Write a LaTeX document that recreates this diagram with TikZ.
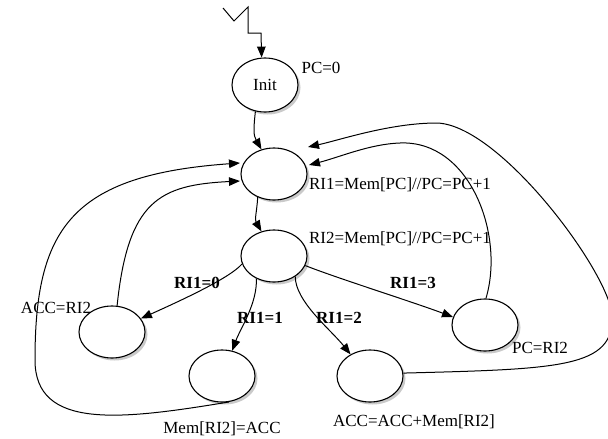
\documentclass[tikz,border=0pt]{standalone}
\usepackage{fontspec}
\setmainfont{Liberation Serif}
\usetikzlibrary{arrows.meta,shapes.geometric,shadows}
\begin{document}
\begin{tikzpicture}[x=1pt,y=-1pt,
  state/.style={ellipse,draw,line width=1.1pt,fill=white,minimum width=66pt,minimum height=52pt,inner sep=0pt,
    font=\fontsize{17}{20}\selectfont,
    drop shadow={shadow xshift=2.5pt,shadow yshift=-2.5pt,opacity=0.35,fill=black!60}},
  conn/.style={line width=1pt,-{Triangle[length=11pt,width=8.5pt]}},
  lbl/.style={inner sep=0pt,font=\fontsize{17}{20}\selectfont},
  cond/.style={inner sep=0pt,font=\fontsize{17}{20}\selectfont\bfseries}]
\useasboundingbox (0,0) rectangle (608,439);
\clip (0,0) rectangle (608,439);

\node[state,minimum height=54pt] (init) at (265,85) {Init};
\node[state] (A) at (274,174) {};
\node[state] (B) at (274,256) {};
\node[state] (C) at (112,332) {};
\node[state] (D) at (222,376) {};
\node[state] (E) at (370,376) {};
\node[state] (F) at (485,325) {};

\coordinate (zz) at (223,8);
\coordinate (tE) at (308,147);
\coordinate (tF) at (309,165);
\coordinate (tD) at (240,163);
\coordinate (tC) at (240,181);

\draw[conn] (zz) -- (234,21) -- (248,7) -- (248,33) -- (261,33) -- (init.97);
\draw[conn] (init.250) .. controls +(-2,18) and +(-8,-14) .. (A.117);
\draw[conn] (A.235) .. controls +(-1,15) and +(-7,-12) .. (B.117);
\draw[conn] (B.194) .. controls +(-12,14) and +(40,-18) .. (C.25);
\draw[conn] (B.232) .. controls +(1,25) and +(8,-22) .. (D.68);
\draw[conn] (B.316) .. controls +(0,25) and +(-20,-25) .. (E.132);
\draw[conn] (B.343) .. controls +(30,12) and +(-40,-15) .. (F.166);
\draw[conn] (C.79) .. controls (128,200) and (160,185) .. (tC);
\draw[conn] (D.285) .. controls (120,420) and (35,430) .. (35,360)
  .. controls (35,230) and (70,175) .. (tD);
\draw[conn] (E.5) .. controls (560,369) and (615,368) .. (612,315)
  .. controls (609,272) and (500,125) .. (437,123)
  .. controls (390,123) and (340,140) .. (tE);
\draw[conn] (F.88) .. controls (505,235) and (470,140) .. (400,143)
  .. controls (370,144) and (340,157) .. (tF);

\node[lbl] (l0) at (321,68) {PC=0};
\node[lbl] (l1) at (400,185) {RI1=Mem[PC]//PC=PC+1};
\node[lbl] (l2) at (400,239) {RI2=Mem[PC]//PC=PC+1};
\node[lbl] (l3) at (56,308) {ACC=RI2};
\node[lbl] (l4) at (222,429) {Mem[RI2]=ACC};
\node[lbl] (l5) at (414,422) {ACC=ACC+Mem[RI2]};
\node[lbl] (l6) at (540,348) {PC=RI2};
\node[cond] (c0) at (197,283) {RI1=0};
\node[cond] (c1) at (260,318) {RI1=1};
\node[cond] (c2) at (339,318) {RI1=2};
\node[cond] (c3) at (413,283) {RI1=3};
\end{tikzpicture}
\end{document}
